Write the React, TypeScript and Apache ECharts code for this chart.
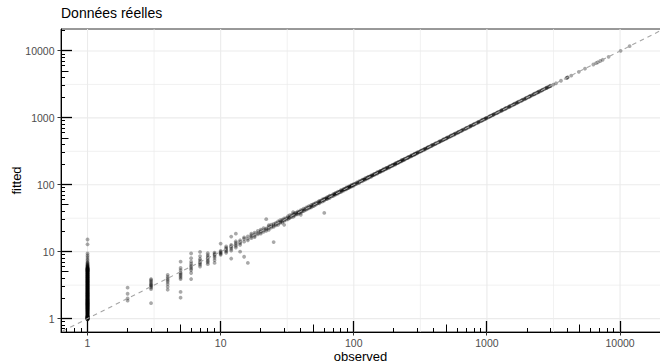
import React, { useEffect, useRef } from "react";
import * as echarts from "echarts";

// ---------- data ----------
const titleText = "Données réelles";
const xName = "observed";
const yName = "fitted";

const majorBreaks = [1, 10, 100, 1000, 10000];
const minorBreaks = [3.1623, 31.623, 316.23, 3162.3];
const tickDecades = [0.1, 1, 10, 100, 1000, 10000];
const tickMultipliers = [1, 2, 3, 4, 5, 6, 7, 8, 9];

// fitted values of all cases with observed = 1
const fittedAtOne = [
  0.97, 0.98, 0.99, 1.0, 1.01, 1.02, 1.03, 1.04, 1.05, 1.06, 1.07, 1.08, 1.1, 1.11, 1.12, 1.14,
  1.15, 1.16, 1.18, 1.19, 1.2, 1.22, 1.23, 1.25, 1.27, 1.28, 1.3, 1.32, 1.33, 1.35, 1.36, 1.38,
  1.39, 1.41, 1.42, 1.44, 1.45, 1.47, 1.48, 1.5, 1.52, 1.54, 1.55, 1.57, 1.59, 1.61, 1.63, 1.65,
  1.67, 1.69, 1.71, 1.73, 1.75, 1.78, 1.8, 1.82, 1.85, 1.87, 1.9, 1.92, 1.95, 1.97, 2.0, 2.03,
  2.06, 2.09, 2.12, 2.15, 2.18, 2.21, 2.24, 2.27, 2.3, 2.34, 2.37, 2.4, 2.44, 2.47, 2.51, 2.55,
  2.58, 2.62, 2.66, 2.7, 2.74, 2.78, 2.82, 2.86, 2.9, 2.95, 2.99, 3.03, 3.08, 3.12, 3.17, 3.22,
  3.27, 3.32, 3.37, 3.42, 3.47, 3.52, 3.58, 3.63, 3.69, 3.74, 3.8, 3.86, 3.92, 3.98, 4.04, 4.1,
  4.16, 4.22, 4.29, 4.35, 4.42, 4.49, 4.56, 4.63, 4.7, 4.77, 4.85, 4.92, 5.0, 5.08, 5.15, 5.23,
  5.3, 5.38, 5.45, 5.53, 5.6, 5.68, 5.75, 5.83, 5.9, 6.0, 6.1, 6.2, 6.3, 6.45, 6.6, 6.8, 7.0,
  7.4, 7.8, 8.3, 8.8, 9.4, 12.9, 15.2,
];
// further cases with observed = 1 (the dense part of the column)
const fittedAtOneMore = [
  0.975, 0.985, 0.995, 1.005, 1.015, 1.025, 1.035, 1.045, 1.055, 1.065, 1.075, 1.09, 1.105,
  1.13, 1.17, 1.21, 1.24, 1.26, 1.29, 1.31, 1.34, 1.37, 1.4, 1.43, 1.46, 1.49, 1.51, 1.53,
  1.56, 1.58, 1.6, 1.62, 1.64, 1.66, 1.68, 1.7, 1.72, 1.74, 1.77, 1.79, 1.81, 1.84, 1.86,
  1.89, 1.91, 1.94, 1.96, 1.99, 2.02, 2.05, 2.08, 2.11, 2.14, 2.17, 2.2, 2.23, 2.26, 2.29,
  2.32, 2.36, 2.39, 2.42, 2.46, 2.49, 2.53, 2.57, 2.6, 2.64, 2.68, 2.72, 2.76, 2.8, 2.84,
  2.88, 2.93, 2.97, 3.01, 3.06, 3.1, 3.15, 3.2, 3.25, 3.3, 3.35, 3.4, 3.45, 3.5, 3.55, 3.61,
  3.66, 3.72, 3.77, 3.83, 3.89, 3.95, 4.01, 4.07, 4.13, 4.19, 4.26, 4.32, 4.39, 4.46, 4.53,
  4.6, 4.67, 4.74, 4.81, 4.89, 4.96, 5.04, 5.12, 5.19, 5.27, 5.34, 5.42, 5.5, 5.57, 5.65,
];

// small counts: [observed, fitted]
const smallCounts: [number, number][] = [
  [2, 1.85], [2, 2.0], [2, 2.35], [2, 2.9],
  [3, 1.7], [3, 2.75], [3, 2.9], [3, 3.0], [3, 3.1], [3, 3.2], [3, 3.3], [3, 3.45], [3, 3.6], [3, 3.75], [3, 3.9],
  [4, 2.7], [4, 3.0], [4, 3.3], [4, 3.55], [4, 3.75], [4, 3.95], [4, 4.2], [4, 4.5],
  [5, 2.05], [5, 2.5], [5, 3.9], [5, 4.1], [5, 4.3], [5, 4.5], [5, 4.7], [5, 4.9], [5, 5.3], [5, 5.7], [5, 7.1],
  [6, 3.9], [6, 4.8], [6, 5.3], [6, 5.6], [6, 5.9], [6, 6.2], [6, 6.6], [6, 7.1], [6, 8.0], [6, 9.4],
  [7, 6.0], [7, 6.4], [7, 6.7], [7, 7.0], [7, 7.4], [7, 7.8], [7, 8.6], [7, 9.9],
  [8, 6.5], [8, 6.9], [8, 7.2], [8, 7.6], [8, 8.0], [8, 8.4], [8, 8.9], [8, 9.5],
  [9, 6.8], [9, 7.5], [9, 8.1], [9, 8.6], [9, 9.0], [9, 9.3], [9, 9.7],
  [10, 9.0], [10, 9.3], [10, 9.6], [10, 9.9], [10, 10.3], [10, 13.2],
  [11, 9.6], [11, 10.1], [11, 10.5], [11, 11.0], [11, 11.4], [11, 12.0],
  [12, 10.4], [12, 11.0], [12, 11.6], [12, 12.1], [12, 12.6], [12, 16.8], [12, 7.9],
  [13, 11.5], [13, 12.2], [13, 12.8], [13, 13.5], [13, 14.3], [13, 18.6],
  [14, 12.6], [14, 13.4], [14, 14.0], [14, 14.8], [14, 10.0],
  [15, 14.1], [15, 15.6], [15, 16.3], [15, 8.4],
  [16, 14.8], [16, 15.7], [16, 16.9], [16, 6.8],
  [17, 15.9], [17, 16.8], [17, 17.6], [17, 18.6],
  [18, 16.5], [18, 17.3], [18, 18.2], [18, 19.2],
  [19, 18.1], [19, 19.0], [19, 20.4],
  [20, 18.6], [20, 19.5], [20, 20.3], [20, 21.3],
  [21, 19.8], [21, 20.9], [21, 22.4],
  [22, 20.5], [22, 21.6], [22, 22.3], [22, 30.6],
  [23, 21.2], [23, 22.6], [23, 23.8], [23, 24.9],
  [24, 22.9], [24, 23.9], [24, 25.3],
  [25, 23.5], [25, 24.6], [25, 13.9], [25, 26.1],
  [26, 24.8], [26, 25.9], [26, 27.0],
  [27, 25.1], [27, 26.7], [27, 28.4],
  [28, 26.9], [28, 27.8], [28, 29.5],
  [29, 27.2], [29, 28.6], [29, 30.1],
];

// middle range: [observed, fitted]
const midRange: [number, number][] = [
  [30, 28.8], [30, 29.9], [30, 31.5], [30, 25.2], [31, 30.2], [32, 30.4], [32, 31.9], [32, 33.8],
  [33, 31.9], [33, 35.2], [34, 33.2], [35, 33.1], [35, 34.8], [35, 36.4], [35, 38.9], [36, 34.7],
  [36, 37.5], [37, 36.3], [38, 36.2], [38, 37.9], [38, 39.8], [39, 38.4], [40, 38.1], [40, 39.7],
  [40, 41.6], [40, 35.5], [41, 40.2], [42, 40.3], [42, 44.0], [43, 42.1], [44, 42.5], [44, 45.8],
  [45, 44.1], [46, 44.3], [46, 47.9], [47, 46.2], [48, 46.0], [48, 50.2], [49, 48.3], [50, 48.1],
  [50, 51.7], [51, 50.2], [52, 50.4], [52, 54.0], [54, 53.1], [55, 52.8], [55, 57.3], [56, 55.2],
  [58, 56.0], [58, 60.4], [59, 58.3], [60, 38.0], [60, 58.1], [60, 62.2], [62, 61.1], [63, 61.0],
  [63, 65.1], [65, 64.0], [66, 63.9], [66, 68.5], [68, 67.2], [70, 67.8], [70, 72.4], [72, 71.1],
  [73, 71.0], [73, 75.8], [75, 74.2], [76, 73.9], [76, 78.7], [78, 77.3], [80, 77.6], [80, 82.9],
  [82, 81.2], [84, 81.9], [84, 86.5], [86, 85.3], [88, 85.4], [88, 91.0], [90, 89.2], [92, 90.1],
  [92, 94.8], [94, 93.3], [96, 93.7], [96, 99.5], [98, 97.1], [100, 97.4], [100, 103.1], [102, 101.2],
  [105, 102.8], [105, 108.0], [108, 107.1], [110, 107.2], [110, 113.4], [113, 112.2], [116, 113.0],
  [116, 119.6], [119, 118.1], [122, 119.1], [122, 125.3], [125, 124.0], [128, 125.0], [128, 131.6],
  [131, 130.1], [135, 131.8], [135, 138.5], [138, 137.0], [142, 139.0], [142, 145.6], [146, 145.1],
  [150, 146.5], [150, 153.8], [154, 152.9], [158, 154.7], [158, 161.2], [162, 161.0], [166, 162.5],
  [166, 169.8], [170, 169.1], [175, 171.4], [175, 178.6], [180, 178.8], [185, 181.0], [185, 188.9],
  [190, 188.6], [195, 191.3], [195, 198.7], [200, 198.9], [205, 201.0], [205, 209.4], [210, 208.7],
  [216, 212.2], [216, 220.1], [222, 220.8], [228, 224.0], [228, 232.5], [234, 232.6], [240, 236.1],
  [240, 244.3], [247, 245.5], [255, 250.8], [255, 259.0], [262, 260.7], [270, 265.5], [270, 274.6],
  [277, 275.4], [285, 280.9], [285, 289.2], [292, 290.6], [300, 295.6], [300, 304.8], [310, 308.4],
  [320, 315.2], [320, 324.7], [330, 328.3], [340, 335.0], [340, 344.9], [350, 348.2], [360, 355.3],
  [360, 364.8], [372, 370.1], [385, 379.6], [385, 390.1], [397, 395.2], [410, 404.8], [410, 415.3],
  [425, 423.0], [440, 434.5], [440, 445.2], [455, 452.9], [470, 464.2], [470, 475.9], [485, 482.8],
  [500, 494.1], [500, 506.0], [517, 514.6], [535, 528.9], [535, 541.3], [552, 549.5], [570, 563.8],
  [570, 576.1], [590, 587.3], [610, 603.4], [610, 616.5], [630, 627.2], [650, 643.0], [650, 657.2],
  [675, 672.1], [700, 692.6], [700, 707.3], [725, 721.8], [750, 742.4], [750, 757.9], [775, 771.6],
  [800, 791.7], [800, 808.5], [830, 826.4], [860, 851.3], [860, 868.6], [890, 886.2], [920, 911.0],
  [920, 929.2], [950, 946.0], [980, 970.4], [980, 989.7],
];

// more cases in the dense band: [observed, fitted]
const denseBand: [number, number][] = [
  [31, 31.6], [33, 32.4], [34, 35.1], [36, 36.2], [37, 38.3], [39, 39.6], [41, 41.8], [43, 43.4],
  [45, 45.9], [47, 47.1], [49, 50.1], [51, 51.8], [53, 52.6], [54, 55.3], [56, 56.9], [57, 57.4],
  [59, 60.0], [61, 61.9], [62, 63.2], [64, 64.5], [65, 66.3], [67, 67.9], [69, 69.4], [71, 72.0],
  [72, 73.3], [74, 74.8], [77, 77.9], [79, 79.6], [81, 82.2], [83, 83.7], [85, 86.1], [87, 87.4],
  [89, 90.3], [91, 91.8], [93, 94.0], [95, 95.7], [97, 98.2], [99, 99.6], [103, 103.9], [107, 108.6],
  [111, 111.7], [114, 115.1], [118, 119.2], [120, 120.8], [124, 125.1], [127, 127.6], [130, 131.3],
  [133, 133.8], [137, 138.2], [140, 140.9], [144, 145.3], [148, 148.6], [152, 153.3], [156, 156.8],
  [160, 161.4], [164, 164.7], [168, 169.5], [172, 172.8], [177, 178.1], [182, 182.9], [187, 188.3],
  [192, 192.6], [198, 199.4], [203, 203.5], [208, 209.7], [213, 213.4], [219, 220.5], [225, 225.6],
  [231, 232.8], [237, 237.5], [244, 245.6], [251, 251.4], [258, 259.9], [266, 266.6], [274, 275.8],
  [281, 281.5], [289, 290.9], [296, 296.7], [305, 306.8], [315, 315.6], [325, 327.1], [335, 335.9],
  [345, 347.2], [355, 355.7], [366, 368.4], [378, 378.6], [391, 393.4], [403, 403.8], [417, 419.5],
  [432, 432.6], [447, 449.8], [462, 462.5], [478, 480.9], [493, 493.7], [508, 511.2], [525, 525.4],
  [543, 546.4], [561, 561.7], [580, 583.6], [600, 600.5], [620, 624.1], [640, 640.8], [662, 666.1],
  [687, 687.6], [712, 716.4], [737, 737.8], [762, 766.7], [788, 788.9], [815, 820.0], [845, 846.1],
  [875, 880.3], [905, 906.2], [935, 940.6], [965, 966.1], [995, 1001.0], [1033, 1034.4],
  [1068, 1074.4], [1102, 1103.7], [1140, 1146.7], [1180, 1181.6], [1222, 1229.1], [1267, 1268.7],
  [1312, 1319.4], [1357, 1358.9], [1405, 1412.9], [1455, 1456.8], [1507, 1515.5], [1562, 1564.0],
  [1617, 1625.9], [1672, 1674.2], [1732, 1741.4], [1797, 1799.2], [1862, 1872.1], [1927, 1929.3],
  [1995, 2005.8], [2065, 2067.6], [2140, 2151.4], [2220, 2222.6], [2300, 2312.3], [2380, 2382.9],
  [2465, 2478.2], [2555, 2558.0], [2650, 2664.0], [2750, 2753.2], [2850, 2865.1], [2950, 2953.4],
];

// large counts: [observed, fitted]
const highRange: [number, number][] = [
  [1015, 1011.0], [1050, 1040.2], [1050, 1059.8], [1085, 1080.6], [1120, 1109.5], [1120, 1130.3],
  [1160, 1155.2], [1200, 1189.4], [1200, 1210.6], [1245, 1240.1], [1290, 1278.6], [1290, 1301.2],
  [1335, 1329.8], [1380, 1368.0], [1380, 1392.5], [1430, 1424.3], [1480, 1467.3], [1480, 1492.6],
  [1535, 1529.0], [1590, 1576.8], [1590, 1603.0], [1645, 1638.7], [1700, 1686.1], [1700, 1713.8],
  [1765, 1758.2], [1830, 1815.5], [1830, 1844.6], [1895, 1888.1], [1960, 1945.0], [1960, 1975.3],
  [2030, 2022.4], [2100, 2084.2], [2100, 2115.7], [2180, 2171.5], [2260, 2243.6], [2260, 2276.0],
  [2340, 2331.2], [2420, 2403.3], [2420, 2437.2], [2510, 2500.6], [2600, 2582.1], [2600, 2618.4],
  [2700, 2690.5], [2800, 2781.0], [2800, 2819.5], [2900, 2889.3], [3000, 2980.6], [3000, 3020.3],
  [3150, 3139.0], [3300, 3289.0], [3600, 3586.4], [3950, 3932.0], [4000, 3982.0], [4050, 4041.5],
  [4300, 4289.0], [4900, 4875.3], [5450, 5431.0], [6300, 6280.4], [6600, 6578.0], [6800, 6776.0],
  [7100, 7080.0], [7400, 7382.5], [8200, 8180.0], [10100, 10060.0], [11800, 11790.0],
];

const identityLine = [0.5, 40000];

// ---------- chart ----------
const X_MIN = 0.632;
const X_MAX = 20300;
const Y_MIN = 0.63;
const Y_MAX = 21300;
const FONT = "Liberation Sans, Arial, Helvetica, sans-serif";

function isPow10(v: number) {
  const l = Math.log10(v);
  return Math.abs(l - Math.round(l)) < 1e-6;
}

const crisp = (v: number) => Math.round(v - 0.5) + 0.5;

export default function App() {
  const ref = useRef<HTMLDivElement>(null);

  useEffect(() => {
    if (!ref.current) return;
    document.body.style.margin = "0";
    const chart = echarts.init(ref.current, undefined, { renderer: "svg" });

    const pointData: [number, number][] = [
      ...fittedAtOne.map((f) => [1, f] as [number, number]),
      ...fittedAtOneMore.map((f) => [1, f] as [number, number]),
      ...smallCounts,
      ...midRange,
      ...denseBand,
      ...highRange,
    ];

    const gridData = [
      ...majorBreaks.map((v) => [v, 2]),
      ...minorBreaks.map((v) => [v, 1]),
    ];

    const tickData: number[][] = [];
    tickDecades.forEach((d) => {
      tickMultipliers.forEach((m) => {
        const v = d * m;
        const kind = m === 1 ? 3 : m === 5 ? 2 : 1;
        tickData.push([v, kind]);
      });
    });

    const tickLen: Record<number, number> = { 3: 11, 2: 7.5, 1: 4 };

    const labelFormatter = (v: number) => (isPow10(v) ? String(Math.round(v)) : "");

    chart.setOption({
      animation: false,
      backgroundColor: "#ffffff",
      title: {
        text: titleText,
        left: 61,
        top: 6,
        padding: 0,
        textStyle: { fontSize: 14, fontWeight: "normal", color: "#000000", fontFamily: FONT },
      },
      grid: {
        left: 61,
        right: -1,
        top: 29,
        bottom: 30,
        show: true,
        borderColor: "#333333",
        borderWidth: 1,
        containLabel: false,
        outerBoundsMode: "none",
      },
      graphic: [
        {
          type: "text",
          x: 360.5,
          y: 356,
          silent: true,
          style: {
            text: xName,
            fontSize: 13,
            lineHeight: 12,
            fontFamily: FONT,
            fill: "#000000",
            textAlign: "center",
            textVerticalAlign: "middle",
          },
        },
        {
          type: "text",
          x: 16,
          y: 180.5,
          rotation: Math.PI / 2,
          silent: true,
          style: {
            text: yName,
            fontSize: 13,
            fontFamily: FONT,
            fill: "#000000",
            textAlign: "center",
            textVerticalAlign: "middle",
          },
        },
      ],
      xAxis: {
        type: "log",
        logBase: 10,
        min: X_MIN,
        max: X_MAX,
        axisLine: { show: true, onZero: false, lineStyle: { color: "#000000", width: 1 } },
        axisTick: { show: false },
        splitLine: { show: false },
        minorTick: { show: false },
        axisLabel: {
          formatter: labelFormatter,
          color: "#4d4d4d",
          fontSize: 10.5,
          margin: 6,
          lineHeight: 10.5,
          fontFamily: FONT,
        },
      },
      yAxis: {
        type: "log",
        logBase: 10,
        min: Y_MIN,
        max: Y_MAX,
        axisLine: { show: true, onZero: false, lineStyle: { color: "#000000", width: 1 } },
        axisTick: { show: false },
        splitLine: { show: false },
        minorTick: { show: false },
        axisLabel: {
          formatter: labelFormatter,
          color: "#4d4d4d",
          fontSize: 10.5,
          margin: 6.5,
          fontFamily: FONT,
        },
      },
      series: [
        {
          type: "custom",
          name: "grid",
          z: 0,
          silent: true,
          data: gridData,
          renderItem: (params: any, api: any) => {
            const v = api.value(0);
            const major = api.value(1) === 2;
            const cs = params.coordSys;
            const p = api.coord([v, v]);
            const style = { stroke: "#ebebeb", lineWidth: major ? 1.1 : 0.7 };
            return {
              type: "group",
              children: [
                { type: "line", shape: { x1: p[0], y1: cs.y, x2: p[0], y2: cs.y + cs.height }, style },
                { type: "line", shape: { x1: cs.x, y1: p[1], x2: cs.x + cs.width, y2: p[1] }, style },
              ],
            };
          },
        },
        {
          type: "scatter",
          name: "points",
          z: 2,
          symbol: "circle",
          symbolSize: 3.8,
          itemStyle: { color: "rgba(0,0,0,0.42)", borderWidth: 0 },
          data: pointData,
          large: false,
          progressive: 0,
        },
        {
          type: "line",
          name: "identity",
          z: 3,
          symbol: "none",
          silent: true,
          data: identityLine.map((v) => [v, v]),
          lineStyle: { color: "#a6a6a6", width: 1.1, type: [4.5, 4] },
        },
        {
          type: "custom",
          name: "logticks",
          z: 4,
          silent: true,
          clip: false,
          data: tickData,
          renderItem: (params: any, api: any) => {
            const v = api.value(0);
            const kind = api.value(1);
            const cs = params.coordSys;
            const p = api.coord([v, v]);
            const len = tickLen[kind];
            const children: any[] = [];
            const bottom = cs.y + cs.height;
            const w = kind === 3 ? 1.3 : 1;
            if (v >= X_MIN && v <= X_MAX) {
              const x = crisp(p[0]);
              children.push({
                type: "line",
                shape: { x1: x, y1: bottom, x2: x, y2: bottom - len },
                style: { stroke: "#000000", lineWidth: w },
              });
              if (kind === 3) {
                children.push({
                  type: "line",
                  shape: { x1: x, y1: bottom, x2: x, y2: bottom + 3.5 },
                  style: { stroke: "#333333", lineWidth: 1 },
                });
              }
            }
            if (v >= Y_MIN && v <= Y_MAX) {
              const y = crisp(p[1]);
              children.push({
                type: "line",
                shape: { x1: cs.x, y1: y, x2: cs.x + len, y2: y },
                style: { stroke: "#000000", lineWidth: w },
              });
              if (kind === 3) {
                children.push({
                  type: "line",
                  shape: { x1: cs.x - 3.5, y1: y, x2: cs.x, y2: y },
                  style: { stroke: "#333333", lineWidth: 1 },
                });
              }
            }
            return { type: "group", children };
          },
        },
      ],
    });

    return () => chart.dispose();
  }, []);

  return (
    <div
      ref={ref}
      style={{ position: "fixed", left: 0, top: 0, width: 660, height: 362 }}
    />
  );
}
